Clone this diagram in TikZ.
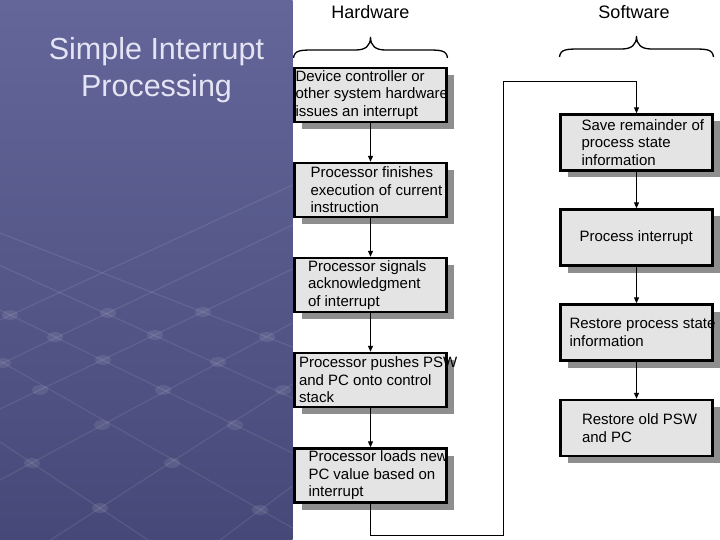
\documentclass[tikz,border=0pt]{standalone}
\usepackage{fontspec}
\setmainfont{Liberation Sans}
\usetikzlibrary{arrows.meta,shadows}
\definecolor{bgtop}{HTML}{64669A}
\definecolor{bgbot}{HTML}{464978}
\definecolor{titlecol}{HTML}{E4E4F4}
\definecolor{boxgray}{HTML}{E4E4E4}
\definecolor{shadowgray}{HTML}{8E8E8E}
\begin{document}
\begin{tikzpicture}[x=1pt,y=-1pt,
  box/.style={draw, line width=2.4pt, fill=boxgray, minimum width=152pt, minimum height=54pt, inner sep=0pt,
    drop shadow={shadow xshift=7pt, shadow yshift=-7pt, fill=shadowgray, opacity=1}},
  swbox/.style={box, minimum height=56pt},
  boxtext/.style={anchor=west, inner sep=0pt, align=left, font=\fontsize{15}{17.5}\selectfont},
  header/.style={anchor=base, inner sep=0pt, font=\fontsize{18}{20}\selectfont},
  flow/.style={line width=1pt, -{Triangle[width=5pt,length=6pt]}},
  gridline/.style={white, opacity=0.09, line width=1.2pt},
  griddot/.style={white, opacity=0.09},
  curlybrace/.pic={\draw[line width=1.3pt] (-77,21) .. controls (-76,13) and (-70,13) .. (-55,13) -- (-15,13) .. controls (-5,13) and (0,9) .. (0,0) .. controls (0,9) and (5,13) .. (15,13) -- (55,13) .. controls (70,13) and (76,13) .. (77,21);}
]
\useasboundingbox (0,0) rectangle (720,540);
\fill[white] (0,0) rectangle (720,540);
\shade[top color=bgtop, bottom color=bgbot] (0,0) rectangle (292.5,540);

% decorative background grid
\begin{scope}
\clip (0,0) rectangle (292.5,540);
\draw[gridline] (0,233) -- (292.5,347);
\draw[gridline] (0,265.5) -- (292.5,398);
\draw[gridline] (0,310) -- (292.5,453);
\draw[gridline] (0,361) -- (292.5,528);
\draw[gridline] (0,442) -- (148,540);
\draw[gridline] (0,320) -- (292.5,185);
\draw[gridline] (0,364.4) -- (292.5,225);
\draw[gridline] (0,409) -- (292.5,269);
\draw[gridline] (0,480) -- (292.5,323);
\draw[gridline] (50.4,540) -- (292.5,384);
\draw[gridline] (220,540) -- (292.5,486);
\foreach \p in {(10,315),(108,313),(203,312),(55,337),(155,335),(267,337),(3,363),(103,360),(218,362),(40,390),(163,390),(283,390),(102,425),(235,425),(32,463),(172,463),(100,508),(260,510)}
  \fill[griddot] \p ellipse [x radius=8pt, y radius=5pt];
\end{scope}

\node[anchor=base, inner sep=0pt, align=center, text=titlecol, font=\fontsize{30.5}{37}\selectfont] (title) at (156.5,97) {Simple Interrupt\\Processing};

\node[header] (hw) at (370.5,19) {Hardware};
\node[header] (sw) at (634,19) {Software};
\pic (hwbrace) at (370.5,37) {curlybrace};
\pic (swbrace) at (636.5,36) {curlybrace};

\node[box] (h1) at (370.5,95) {};
\node[box] (h2) at (370.5,190) {};
\node[box] (h3) at (370.5,285) {};
\node[box] (h4) at (370.5,380) {};
\node[box] (h5) at (370.5,475.5) {};

\node[swbox] (s1) at (636.5,142.5) {};
\node[swbox] (s2) at (636.5,237.5) {};
\node[swbox] (s3) at (636.5,332.5) {};
\node[swbox] (s4) at (636.5,428) {};

\node[boxtext] (t1) at ([xshift=2pt]h1.west) {Device controller or\\other system hardware\\issues an interrupt};
\node[boxtext] (t2) at ([xshift=17pt]h2.west) {Processor finishes\\execution of current\\instruction};
\node[boxtext] (t3) at ([xshift=14.5pt]h3.west) {Processor signals\\acknowledgment\\of interrupt};
\node[boxtext] (t4) at ([xshift=5.5pt]h4.west) {Processor pushes PSW\\and PC onto control\\stack};
\node[boxtext] (t5) at ([xshift=15pt]h5.west) {Processor loads new\\PC value based on\\interrupt};

\node[boxtext] (u1) at ([xshift=22pt]s1.west) {Save remainder of\\process state\\information};
\node[boxtext] (u2) at ([xshift=20pt]s2.west) {Process interrupt};
\node[boxtext] (u3) at ([xshift=10pt]s3.west) {Restore process state\\information};
\node[boxtext] (u4) at ([xshift=22.5pt]s4.west) {Restore old PSW\\and PC};

\draw[flow] (h1) -- (h2);
\draw[flow] (h2) -- (h3);
\draw[flow] (h3) -- (h4);
\draw[flow] (h4) -- (h5);
\coordinate (loopA) at (503,535);
\coordinate (loopB) at (503,82);
\draw[flow] (h5.south) |- (loopA) -- (loopB) -| (s1.north);
\draw[flow] (s1) -- (s2);
\draw[flow] (s2) -- (s3);
\draw[flow] (s3) -- (s4);
\end{tikzpicture}
\end{document}
